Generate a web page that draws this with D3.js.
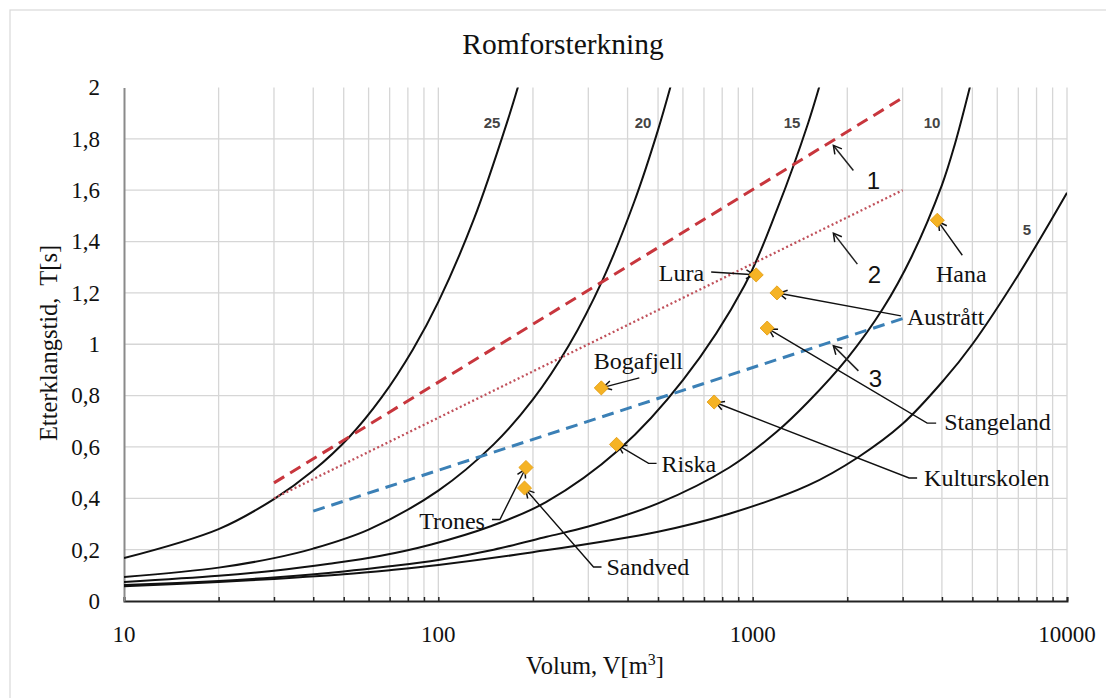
<!DOCTYPE html>
<html><head><meta charset="utf-8">
<script src="https://cdn.jsdelivr.net/npm/d3@7"></script>
<style>body{margin:0;background:#fff;} svg{display:block;}</style>
</head><body><svg id="chart" width="1106" height="698"></svg>
<script>
// ---------------- DATA ----------------
const curveNames = ["25", "20", "15", "10", "5"];
const curve25V = [10, 20, 30, 40, 52, 66, 83, 100, 130, 166, 185];
const curve25T = [0.167, 0.28, 0.397, 0.508, 0.638, 0.793, 0.98, 1.165, 1.49, 1.87, 2.06];
const curve20V = [10, 20, 30, 40, 60, 100, 150, 200, 260, 333, 420, 500, 570];
const curve20T = [0.093, 0.13, 0.167, 0.204, 0.278, 0.43, 0.61, 0.785, 0.995, 1.25, 1.555, 1.835, 2.08];
const curve15V = [10, 20, 30, 45, 65, 95, 146, 220, 376, 600, 943, 1200, 1500, 1680];
const curve15T = [0.074, 0.098, 0.118, 0.145, 0.175, 0.22, 0.29, 0.385, 0.59, 0.86, 1.23, 1.53, 1.86, 2.06];
const curve10V = [10, 20, 30, 50, 70, 100, 150, 221, 300, 500, 843, 1195, 1500, 2000, 2600, 3200, 4000, 4400, 5000];
const curve10T = [0.062, 0.078, 0.092, 0.115, 0.135, 0.16, 0.2, 0.25, 0.29, 0.38, 0.52, 0.66, 0.775, 0.945, 1.14, 1.34, 1.62, 1.78, 2.04];
const curve5V = [10, 20, 30, 50, 70, 100, 200, 500, 843, 1500, 2166, 3000, 4053, 5000, 7000, 10000];
const curve5T = [0.057, 0.074, 0.086, 0.104, 0.12, 0.14, 0.19, 0.27, 0.34, 0.45, 0.56, 0.69, 0.86, 1.0, 1.27, 1.59];

const lineNames = ["1", "2", "3"];
const line1V = [30, 3000], line1T = [0.46, 1.96];
const line2V = [30, 3000], line2T = [0.40, 1.60];
const line3V = [40, 3000], line3T = [0.35, 1.10];

const roomNames = ["Trones", "Sandved", "Bogafjell", "Riska", "Kulturskolen", "Lura", "Austrått", "Stangeland", "Hana"];
const roomV = [190, 188, 330, 369, 754, 1026, 1195, 1112, 3867];
const roomT = [0.52, 0.44, 0.83, 0.61, 0.775, 1.27, 1.20, 1.063, 1.483];

const xTickValues = [10, 100, 1000, 10000];
const xTickLabels = ["10", "100", "1000", "10000"];
const yTickValues = [0, 0.2, 0.4, 0.6, 0.8, 1, 1.2, 1.4, 1.6, 1.8, 2];
const yTickLabels = ["0", "0,2", "0,4", "0,6", "0,8", "1", "1,2", "1,4", "1,6", "1,8", "2"];

const titleText = "Romforsterkning";
const xAxisTitle = "Volum, V[m";
const yAxisTitle = "Etterklangstid,  T[s]";

// ---------------- LAYOUT ----------------
const M = {left: 124, right: 1067, top: 87.5, bottom: 601};
const serif = "'Liberation Serif','Times New Roman',serif";
const sans = "'Liberation Sans','DejaVu Sans',sans-serif";

const roomLabelLayout = [
  {dx: -41, dy: 53, anchor: "end", leader: [[-34, 52], [-26, 52], [0, 0]]},
  {dx: 82, dy: 79, anchor: "start", leader: [[77, 79], [69, 79], [0, 0]]},
  {dx: 37, dy: -27, anchor: "middle", leader: [[38, -10], [0, 0]]},
  {dx: 45, dy: 19, anchor: "start", leader: [[40, 19], [32, 19], [0, 0]]},
  {dx: 210, dy: 76, anchor: "start", leader: [[203, 76], [195, 76], [0, 0]]},
  {dx: -52, dy: -2, anchor: "end", leader: [[-45, -3], [0, 0]]},
  {dx: 130, dy: 24, anchor: "start", leader: [[124, 23], [0, 0]]},
  {dx: 177, dy: 94, anchor: "start", leader: [[169, 95], [160, 95], [0, 0]]},
  {dx: 24, dy: 53, anchor: "middle", leader: [[25, 35], [0, 0]]}
];
const lineLabelAtV = 1780;
const lineLabelLayout = [
  {tipDy: 2, fromDx: 22, fromDy: 27, tdx: 42, tdy: 37},
  {tipDy: 6, fromDx: 26, fromDy: 33, tdx: 43, tdy: 43},
  {tipDy: 2, fromDx: 27, fromDy: 27, tdx: 44, tdy: 35}
];
const curveLabelPos = [[492, 123], [643, 123], [792, 123], [932, 123], [1027, 230]];

// ---------------- DRAW ----------------
const svg = d3.select("#chart");
const x = d3.scaleLog().domain([10, 10000]).range([M.left, M.right]);
const y = d3.scaleLinear().domain([0, 2]).range([M.bottom, M.top]);

svg.append("rect").attr("x", 10).attr("y", 10).attr("width", 1120).attr("height", 720)
  .attr("fill", "none").attr("stroke", "#d9d9d9").attr("stroke-width", 1.2);

const defs = svg.append("defs");
defs.append("clipPath").attr("id", "plotclip")
  .append("rect").attr("x", M.left).attr("y", M.top).attr("width", M.right - M.left).attr("height", M.bottom - M.top);
defs.append("marker").attr("id", "arr").attr("viewBox", "-10 -6 12 12")
  .attr("refX", 0).attr("refY", 0).attr("markerWidth", 12).attr("markerHeight", 12)
  .attr("markerUnits", "userSpaceOnUse").attr("orient", "auto")
  .append("path").attr("d", "M-8,-4.5 L0,0 L-8,4.5").attr("fill", "none")
  .attr("stroke", "#111").attr("stroke-width", 1.5);

// grid
const minorVals = [];
[10, 100, 1000].forEach(d => { for (let k = 1; k <= 9; k++) minorVals.push(k * d); });
minorVals.push(10000);
const grid = svg.append("g");
grid.selectAll("line.v").data(minorVals.filter(v => v > 10)).join("line")
  .attr("x1", d => x(d)).attr("x2", d => x(d)).attr("y1", M.top).attr("y2", M.bottom)
  .attr("stroke", "#d6d6d6").attr("stroke-width", 1.3);
grid.selectAll("line.h").data(yTickValues.filter(v => v > 0 && v < 2)).join("line")
  .attr("x1", M.left).attr("x2", M.right).attr("y1", d => y(d)).attr("y2", d => y(d))
  .attr("stroke", "#d6d6d6").attr("stroke-width", 1.3);

// axes
const xAxis = d3.axisBottom(x).tickValues(minorVals).tickSize(-4).tickFormat("");
const gx = svg.append("g").attr("transform", `translate(0,${M.bottom})`).call(xAxis);
gx.select(".domain").attr("stroke", "#222").attr("stroke-width", 2);
gx.selectAll(".tick line").attr("stroke", "#222").attr("stroke-width", 1.5);

const yAxis = d3.axisLeft(y).tickValues(yTickValues).tickSize(0).tickFormat((d, i) => yTickLabels[i]);
const gy = svg.append("g").attr("transform", `translate(${M.left},0)`).call(yAxis);
gy.select(".domain").attr("stroke", "#8a8a8a").attr("stroke-width", 2);
gy.selectAll(".tick text").attr("x", -24).attr("font-family", serif).attr("font-size", 23).attr("fill", "#111");

svg.append("g").selectAll("text").data(xTickValues).join("text")
  .attr("x", d => x(d)).attr("y", 642).attr("text-anchor", "middle")
  .attr("font-family", serif).attr("font-size", 23).attr("fill", "#111")
  .text((d, i) => xTickLabels[i]);

// curves
const curves = [
  [curve25V, curve25T], [curve20V, curve20T], [curve15V, curve15T], [curve10V, curve10T], [curve5V, curve5T]
];
const lineGen = d3.line().x(d => x(d[0])).y(d => y(d[1])).curve(d3.curveCatmullRom.alpha(0.5));
const plot = svg.append("g").attr("clip-path", "url(#plotclip)");
curves.forEach(([vs, ts]) => {
  plot.append("path").datum(vs.map((v, i) => [v, ts[i]])).attr("d", lineGen)
    .attr("fill", "none").attr("stroke", "#111").attr("stroke-width", 2);
});

// reference lines
const refLines = [
  {v: line1V, t: line1T, color: "#c8363d", dash: "12,7", w: 3},
  {v: line2V, t: line2T, color: "#c0505a", dash: "2,2.6", w: 2.3},
  {v: line3V, t: line3T, color: "#3b80b6", dash: "12,7", w: 3}
];
const straight = d3.line().x(d => x(d[0])).y(d => y(d[1]));
refLines.forEach(l => {
  plot.append("path").datum(l.v.map((v, i) => [v, l.t[i]])).attr("d", straight)
    .attr("fill", "none").attr("stroke", l.color).attr("stroke-width", l.w).attr("stroke-dasharray", l.dash);
});

// curve labels
svg.append("g").selectAll("text").data(curveNames).join("text")
  .attr("x", (d, i) => curveLabelPos[i][0]).attr("y", (d, i) => curveLabelPos[i][1])
  .attr("dy", "0.35em").attr("text-anchor", "middle")
  .attr("font-family", sans).attr("font-weight", "bold").attr("font-size", 15).attr("fill", "#444")
  .text(d => d);

// line number labels with arrows
const interpT = (l, v) => {
  const f = (Math.log10(v) - Math.log10(l.v[0])) / (Math.log10(l.v[1]) - Math.log10(l.v[0]));
  return l.t[0] + f * (l.t[1] - l.t[0]);
};
lineNames.forEach((n, i) => {
  const L = lineLabelLayout[i];
  const tx = x(lineLabelAtV), ty = y(interpT(refLines[i], lineLabelAtV)) + L.tipDy;
  svg.append("line").attr("x1", tx + L.fromDx).attr("y1", ty + L.fromDy).attr("x2", tx + 2).attr("y2", ty + 2)
    .attr("stroke", "#222").attr("stroke-width", 1.5).attr("marker-end", "url(#arr)");
  svg.append("text").attr("x", tx + L.tdx).attr("y", ty + L.tdy).attr("dy", "0.35em")
    .attr("text-anchor", "middle").attr("font-family", sans).attr("font-size", 24).attr("fill", "#111").text(n);
});

// rooms: leaders, markers, labels
const ann = svg.append("g");
roomNames.forEach((n, i) => {
  const px = x(roomV[i]), py = y(roomT[i]);
  const L = roomLabelLayout[i];
  const pts = L.leader.map(p => [px + p[0], py + p[1]]);
  const last = pts[pts.length - 1], prev = pts[pts.length - 2];
  const dx = last[0] - prev[0], dy = last[1] - prev[1], len = Math.hypot(dx, dy);
  pts[pts.length - 1] = [last[0] - dx / len * 2, last[1] - dy / len * 2];
  ann.append("path").attr("d", d3.line()(pts)).attr("fill", "none")
    .attr("stroke", "#111").attr("stroke-width", 1.4).attr("marker-end", "url(#arr)");
});
svg.append("g").selectAll("path").data(roomNames).join("path")
  .attr("d", d3.symbol(d3.symbolSquare, 100))
  .attr("transform", (d, i) => `translate(${x(roomV[i])},${y(roomT[i])}) rotate(45)`)
  .attr("fill", "#f5b324").attr("stroke", "#e39c12").attr("stroke-width", 0.8);
roomNames.forEach((n, i) => {
  const L = roomLabelLayout[i];
  ann.append("text").attr("x", x(roomV[i]) + L.dx).attr("y", y(roomT[i]) + L.dy).attr("dy", "0.35em")
    .attr("text-anchor", L.anchor).attr("font-family", serif).attr("font-size", 24).attr("fill", "#111").text(n);
});

// titles
svg.append("text").attr("x", 563).attr("y", 54).attr("text-anchor", "middle")
  .attr("font-family", serif).attr("font-size", 29.5).attr("fill", "#111").text(titleText);
const xt = svg.append("text").attr("x", 595).attr("y", 674).attr("text-anchor", "middle")
  .attr("font-family", serif).attr("font-size", 24.5).attr("fill", "#111");
xt.append("tspan").text(xAxisTitle);
xt.append("tspan").attr("dy", -9).attr("font-size", 16).text("3");
xt.append("tspan").attr("dy", 9).text("]");
svg.append("text").attr("transform", "translate(57,343) rotate(-90)").attr("text-anchor", "middle")
  .attr("font-family", serif).attr("font-size", 24.5).attr("fill", "#111").style("white-space", "pre")
  .text(yAxisTitle);
</script></body></html>
